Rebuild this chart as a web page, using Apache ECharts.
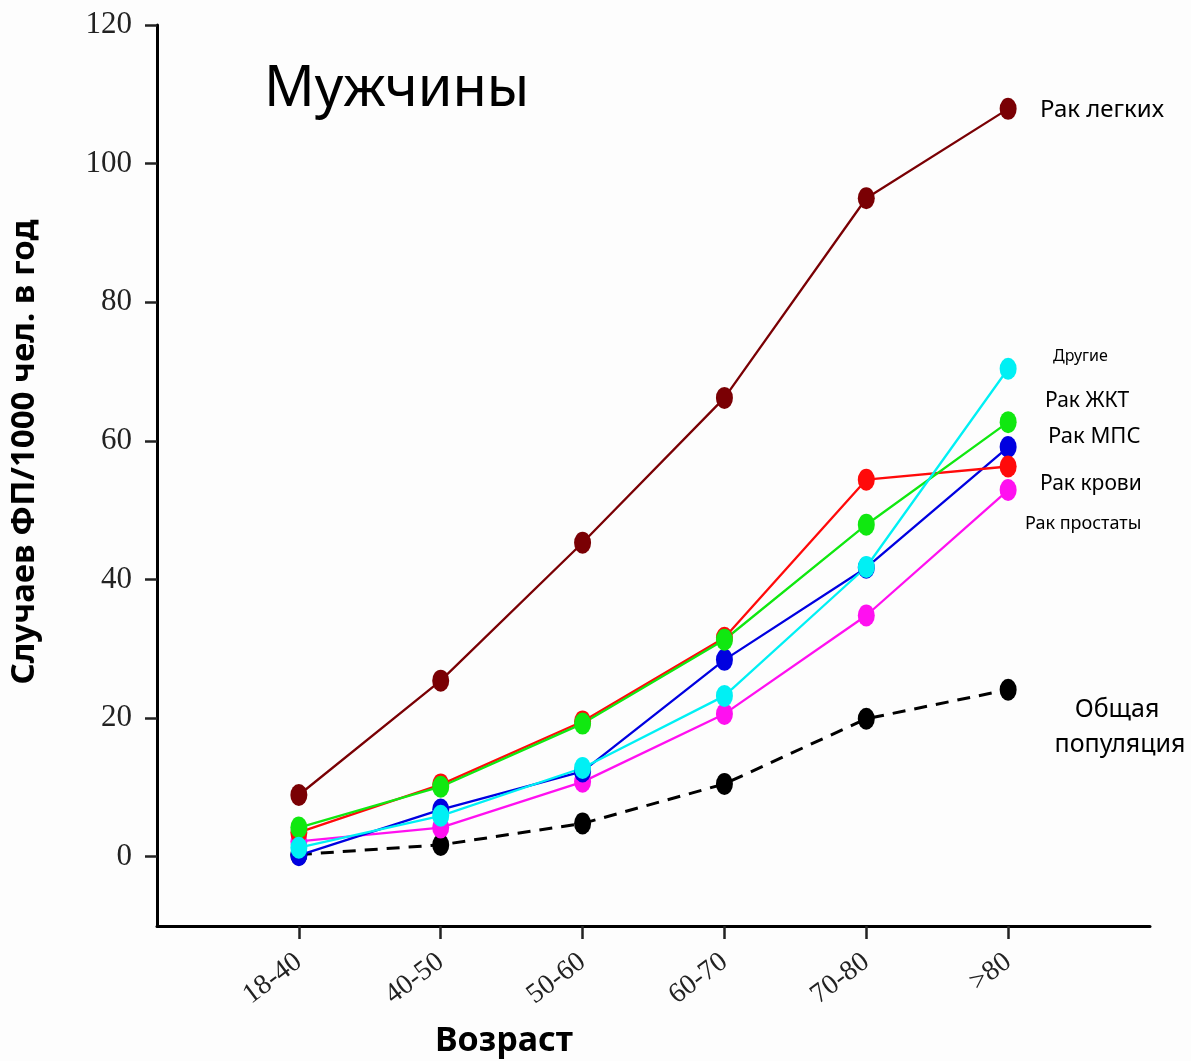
<!DOCTYPE html>
<html>
<head>
<meta charset="utf-8">
<script src="https://cdn.jsdelivr.net/npm/echarts@6/dist/echarts.min.js"></script>
<style>
  html, body { margin: 0; padding: 0; background: #fdfdfd; }
  #chart { width: 1191px; height: 1061px; }
</style>
</head>
<body>
<div id="chart"></div>
<script>
// age groups on the x axis
const ageGroups = ['18-40', '40-50', '50-60', '60-70', '70-80', '>80'];
const yTicks = [0, 20, 40, 60, 80, 100, 120];

// AF cases per 1000 person-years
const lungCancer     = [8.9, 25.4, 45.3, 66.2, 95.0, 107.9];
const bloodCancer    = [3.5, 10.4, 19.5, 31.6, 54.4, 56.3];
const giCancer       = [4.2, 10.1, 19.2, 31.3, 47.9, 62.7];
const urinaryCancer  = [0.2, 6.8, 12.3, 28.4, 41.7, 59.1];
const otherCancer    = [1.3, 5.9, 12.8, 23.2, 41.8, 70.4];
const prostateCancer = [2.2, 4.2, 10.8, 20.6, 34.8, 52.9];
const generalPop     = [0.3, 1.7, 4.8, 10.5, 19.9, 24.1];

let myChart;
function drawChart(){
  let chartDom = document.getElementById('chart');
  myChart = echarts.init(chartDom);

  function pts(arr){
    return arr.map(function(v, i){ return [i, v]; });
  }
  function line(name, data, color, dashed){
    return {
      name: name,
      type: 'line',
      data: pts(data),
      symbol: 'circle',
      symbolSize: [17, 22],
      showSymbol: true,
      itemStyle: { color: color },
      lineStyle: {
        color: color,
        width: dashed ? 3 : 2.3,
        type: dashed ? [13, 9] : 'solid'
      },
      animation: false,
      z: 2
    };
  }

  let options = {
    backgroundColor: '#fdfdfd',
    grid: {
      left: 157,
      right: 41,
      top: 25,
      bottom: 135
    },
    xAxis: {
      type: 'value',
      min: -1,
      max: 6,
      splitLine: { show: false },
      axisLine: { show: true, onZero: false, lineStyle: { color: '#000', width: 3 } },
      axisTick: {
        show: true,
        customValues: [0, 1, 2, 3, 4, 5],
        length: 13,
        lineStyle: { color: '#222', width: 2.5 }
      },
      axisLabel: {
        customValues: [0, 1, 2, 3, 4, 5],
        rotate: 37,
        margin: 33,
        fontFamily: 'Liberation Serif',
        fontSize: 28,
        color: '#222',
        formatter: function(value){
          return ageGroups[value];
        }
      }
    },
    yAxis: {
      type: 'value',
      min: -10,
      max: 120,
      splitLine: { show: false },
      axisLine: { show: true, onZero: false, lineStyle: { color: '#000', width: 3 } },
      axisTick: {
        show: true,
        customValues: yTicks,
        length: 12,
        lineStyle: { color: '#222', width: 2.5 }
      },
      axisLabel: {
        customValues: yTicks,
        margin: 25,
        fontFamily: 'Liberation Serif',
        fontSize: 31,
        color: '#222'
      }
    },
    series: [
      line('Общая популяция', generalPop, '#000000', true),
      line('Рак простаты', prostateCancer, '#ff10f0', false),
      line('Рак МПС', urinaryCancer, '#0000e0', false),
      line('Рак крови', bloodCancer, '#ff0a0a', false),
      line('Рак ЖКТ', giCancer, '#10e810', false),
      line('Другие', otherCancer, '#00f0f4', false),
      line('Рак легких', lungCancer, '#7a0004', false)
    ],
    graphic: [
      { type: 'text', left: 264, top: 62,
        style: { text: 'Мужчины', font: '56px "Noto Sans"', fill: '#000' } },
      { type: 'text', x: 25, y: 452, rotation: Math.PI / 2,
        style: { text: 'Случаев ФП/1000 чел. в год', font: 'bold 33px "Noto Sans"',
                 fill: '#000', align: 'center', verticalAlign: 'middle' } },
      { type: 'text', x: 504, y: 1041,
        style: { text: 'Возраст', font: 'bold 34px "Noto Sans"',
                 fill: '#000', align: 'center', verticalAlign: 'middle' } },
      { type: 'text', x: 1040, y: 110,
        style: { text: 'Рак легких', font: '24px "Noto Sans"', fill: '#000', verticalAlign: 'middle' } },
      { type: 'text', x: 1053, y: 356,
        style: { text: 'Другие', font: '16px "Noto Sans"', fill: '#000', verticalAlign: 'middle' } },
      { type: 'text', x: 1045, y: 401,
        style: { text: 'Рак ЖКТ', font: '21px "Noto Sans"', fill: '#000', verticalAlign: 'middle' } },
      { type: 'text', x: 1048, y: 437,
        style: { text: 'Рак МПС', font: '22px "Noto Sans"', fill: '#000', verticalAlign: 'middle' } },
      { type: 'text', x: 1040, y: 484,
        style: { text: 'Рак крови', font: '21px "Noto Sans"', fill: '#000', verticalAlign: 'middle' } },
      { type: 'text', x: 1025, y: 524,
        style: { text: 'Рак простаты', font: '18px "Noto Sans"', fill: '#000', verticalAlign: 'middle' } },
      { type: 'text', x: 1117, y: 710,
        style: { text: 'Общая', font: '25px "Noto Sans"', fill: '#000', align: 'center', verticalAlign: 'middle' } },
      { type: 'text', x: 1120, y: 745,
        style: { text: 'популяция', font: '25px "Noto Sans"', fill: '#000', align: 'center', verticalAlign: 'middle' } }
    ]
  };

  myChart.setOption(options);
}
drawChart();
</script>
</body>
</html>
